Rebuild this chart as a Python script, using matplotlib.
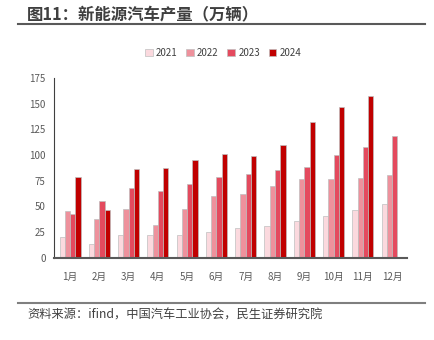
import matplotlib
matplotlib.use("Agg")
import matplotlib.pyplot as plt
import numpy as np

plt.rcParams['font.family'] = ['Noto Sans CJK SC', 'DejaVu Sans']

months = ["1月", "2月", "3月", "4月", "5月", "6月", "7月", "8月", "9月", "10月", "11月", "12月"]
series_names = ["2021", "2022", "2023", "2024"]
v2021 = [20, 13.3, 22, 22, 22, 25, 28.5, 31, 35.3, 40.2, 46, 51.8]
v2022 = [45.4, 37.3, 47.3, 31.8, 47.3, 59.6, 62.2, 69.3, 76.5, 76.8, 77.4, 80]
v2023 = [42.4, 55.4, 67.7, 64.5, 71.6, 79, 81, 85.2, 88.5, 99.5, 107.9, 118]
v2024 = [79, 46.3, 86.8, 87.2, 94.6, 100.5, 98.8, 109.5, 131.6, 146.8, 157.5, np.nan]
colors = ["#FBD9DE", "#EE919C", "#E44A5E", "#C00000"]

fig = plt.figure(figsize=(4.35, 3.4), dpi=100)
ax = fig.add_axes([0.124, 0.242, 0.811, 0.529])

x = np.arange(len(months))
w = 0.18
for i, (vals, name) in enumerate(zip([v2021, v2022, v2023, v2024], series_names)):
    ax.bar(x + (i - 1.5) * w, vals, width=w, color=colors[i], edgecolor="#BFBFBF",
           linewidth=0.5, label=name)

ax.set_xlim(-0.55, 11.5)
ax.set_ylim(0, 175)
ax.set_yticks(np.arange(0, 176, 25))
ax.set_xticks(x)
ax.set_xticklabels(months)
ax.tick_params(axis='both', length=0, labelsize=7, colors="#595959")
ax.tick_params(axis='x', pad=10)
ax.tick_params(axis='y', pad=6)
for s in ["top", "right"]:
    ax.spines[s].set_visible(False)
ax.spines["left"].set_color("#404040")
ax.spines["left"].set_linewidth(0.8)
ax.spines["bottom"].set_color("#595959")
ax.spines["bottom"].set_linewidth(1.5)

leg = fig.legend(loc="center", bbox_to_anchor=(0.513, 0.845), ncol=4, frameon=False,
                 fontsize=7, handlelength=0.8, handleheight=0.8, handletextpad=0.3,
                 columnspacing=0.9)
for t in leg.get_texts():
    t.set_color("#404040")

fig.text(0.062, 0.955, "图11：新能源汽车产量（万辆）", fontsize=11.8, fontweight="bold",
         color="#3F3F3F", va="center", ha="left")
fig.add_artist(plt.Line2D([0.041, 0.977], [0.928, 0.928], color="#595959", linewidth=1.5))
fig.add_artist(plt.Line2D([0.041, 0.977], [0.110, 0.110], color="#7F7F7F", linewidth=1.5))
fig.text(0.062, 0.073, "资料来源：ifind，中国汽车工业协会，民生证券研究院", fontsize=8.8,
         color="#404040", va="center", ha="left")

fig.savefig("out.png", dpi=100)
